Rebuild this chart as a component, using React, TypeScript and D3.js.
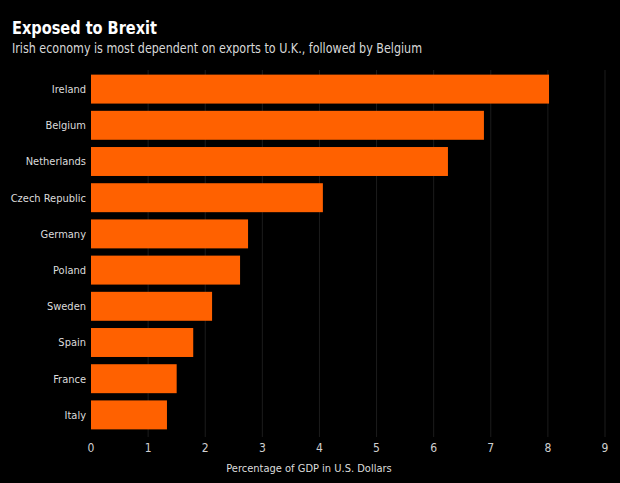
import { useRef, useEffect } from 'react'
import * as d3 from 'd3'

const countries = ['Ireland', 'Belgium', 'Netherlands', 'Czech Republic', 'Germany', 'Poland', 'Sweden', 'Spain', 'France', 'Italy']
const exportShare = [8.02, 6.88, 6.25, 4.06, 2.75, 2.61, 2.12, 1.79, 1.5, 1.33]
const xTicks = [0, 1, 2, 3, 4, 5, 6, 7, 8, 9]

const FONT = '"DejaVu Sans Condensed", "Liberation Sans", sans-serif'

const App = () => {
  const svgRef = useRef<SVGSVGElement>(null)
  const width = 620
  const height = 483

  useEffect(() => {
    if (!svgRef.current) return
    const svg = d3.select(svgRef.current)
    svg.selectAll('*').remove()

    svg.append('rect').attr('width', width).attr('height', height).attr('fill', '#000')

    const x = d3.scaleLinear().domain([0, 9]).range([91, 605])
    const y = d3.scaleBand<string>().domain(countries).range([71, 433]).paddingInner(0.2).paddingOuter(0.1)

    // Vertical grid
    svg.append('g')
      .selectAll('line')
      .data(xTicks.slice(1))
      .join('line')
      .attr('x1', (d) => x(d))
      .attr('x2', (d) => x(d))
      .attr('y1', 70)
      .attr('y2', 437)
      .attr('stroke', '#1c1c1c')
      .attr('stroke-width', 1)

    // Bars
    svg.append('g')
      .selectAll('rect')
      .data(countries)
      .join('rect')
      .attr('x', x(0))
      .attr('y', (d) => y(d) as number)
      .attr('width', (_, i) => x(exportShare[i]) - x(0))
      .attr('height', y.bandwidth())
      .attr('fill', '#ff6100')

    // Category labels
    svg.append('g')
      .selectAll('text')
      .data(countries)
      .join('text')
      .attr('x', 86)
      .attr('y', (d) => (y(d) as number) + y.bandwidth() / 2)
      .attr('dy', '0.35em')
      .attr('text-anchor', 'end')
      .attr('fill', '#dcdcdc')
      .style('font-family', FONT)
      .style('font-size', '11px')
      .text((d) => d)

    // X tick labels
    svg.append('g')
      .selectAll('text')
      .data(xTicks)
      .join('text')
      .attr('x', (d) => x(d))
      .attr('y', 452)
      .attr('text-anchor', 'middle')
      .attr('fill', '#d0d0d0')
      .style('font-family', FONT)
      .style('font-size', '12px')
      .text((d) => d)

    svg.append('text')
      .attr('x', 309)
      .attr('y', 472)
      .attr('text-anchor', 'middle')
      .attr('fill', '#dcdcdc')
      .style('font-family', FONT)
      .style('font-size', '11px')
      .text('Percentage of GDP in U.S. Dollars')

    // Title and subtitle
    svg.append('text')
      .attr('x', 12)
      .attr('y', 34)
      .attr('fill', '#fff')
      .attr('textLength', 145)
      .attr('lengthAdjust', 'spacingAndGlyphs')
      .style('font-family', FONT)
      .style('font-size', '18px')
      .style('font-weight', 'bold')
      .text('Exposed to Brexit')

    svg.append('text')
      .attr('x', 12)
      .attr('y', 53)
      .attr('fill', '#d8d8d8')
      .attr('textLength', 410)
      .attr('lengthAdjust', 'spacingAndGlyphs')
      .style('font-family', FONT)
      .style('font-size', '13.5px')
      .text('Irish economy is most dependent on exports to U.K., followed by Belgium')
  }, [])

  return (
    <div style={{ position: 'absolute', left: 0, top: 0 }}>
      <svg ref={svgRef} width={width} height={height} style={{ display: 'block' }} />
    </div>
  )
}

export default App
